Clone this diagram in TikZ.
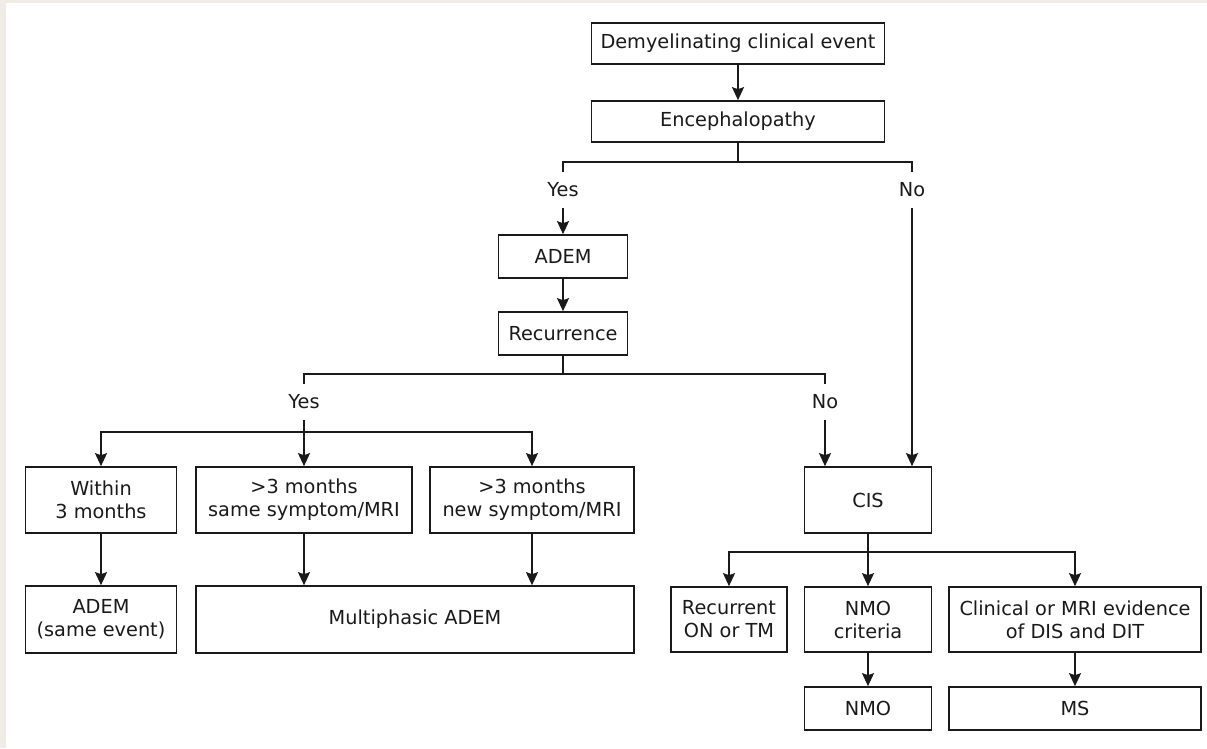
\documentclass[tikz,border=0pt]{standalone}
\usepackage{fontspec}
\setmainfont{DejaVu Sans}
\usetikzlibrary{arrows.meta}
\definecolor{bgbeige}{HTML}{F0EBE5}
\definecolor{ink}{HTML}{1A1A1A}
\begin{document}
\begin{tikzpicture}[x=1pt,y=-1pt,
  box/.style={draw=ink, line width=1.7pt, inner sep=0pt, align=center, font=\fontsize{19.3}{23}\selectfont, text=ink},
  lab/.style={inner sep=0pt, minimum height=36pt, font=\fontsize{19.3}{23}\selectfont, text=ink},
  conn/.style={draw=ink, line width=1.7pt},
  arr/.style={conn, -{Stealth[length=13pt,width=12pt,inset=2pt]}}]
\fill[bgbeige] (0,0) rectangle (1207,748);
\fill[white] (6,3) rectangle (1207,748);
\useasboundingbox (0,0) rectangle (1207,748);

\node[box, minimum width=293pt, minimum height=41pt] (dce) at (738,43.5) {Demyelinating clinical event};
\node[box, minimum width=293pt, minimum height=41pt] (enc) at (738,121.5) {Encephalopathy};
\node[lab] (yes1) at (563,190) {Yes};
\node[lab] (no1) at (912,190) {No};
\node[box, minimum width=129pt, minimum height=43pt] (adem) at (563,256.5) {ADEM};
\node[box, minimum width=129pt, minimum height=43pt] (rec) at (563,333.5) {Recurrence};
\node[lab] (yes2) at (304,402) {Yes};
\node[lab] (no2) at (825,402) {No};
\node[box, minimum width=151pt, minimum height=66pt] (within) at (101,500) {Within\\3 months};
\node[box, minimum width=216pt, minimum height=66pt] (same) at (304,500) {>3 months\\same symptom/MRI};
\node[box, minimum width=204pt, minimum height=66pt] (new) at (532,500) {>3 months\\new symptom/MRI};
\node[box, minimum width=127pt, minimum height=66pt] (cis) at (868,500) {CIS};
\node[box, minimum width=151pt, minimum height=67pt] (ademse) at (101,619.5) {ADEM\\(same event)};
\node[box, minimum width=438pt, minimum height=67pt] (multi) at (415,619.5) {Multiphasic ADEM};
\node[box, minimum width=116pt, minimum height=65pt] (recon) at (729,619.5) {Recurrent\\ON or TM};
\node[box, minimum width=127pt, minimum height=65pt] (nmoc) at (868,619.5) {NMO\\criteria};
\node[box, minimum width=252pt, minimum height=65pt] (clin) at (1075,619.5) {Clinical or MRI evidence\\of DIS and DIT};
\node[box, minimum width=127pt, minimum height=43pt] (nmo) at (868,708.5) {NMO};
\node[box, minimum width=252pt, minimum height=43pt] (ms) at (1075,708.5) {MS};

\coordinate (j1) at (738,162);
\coordinate (j2) at (563,374);
\coordinate (j3) at (304,432);
\coordinate (j4) at (868,552);

\draw[arr] (dce.south) -- (enc.north);
\draw[conn] (enc.south) -- (j1);
\draw[conn] (yes1.north) |- (j1) -| (no1.north);
\draw[arr] (yes1.south) -- (adem.north);
\draw[arr] (no1.south) -- (no1.south |- cis.north);
\draw[arr] (adem.south) -- (rec.north);
\draw[conn] (rec.south) -- (j2);
\draw[conn] (yes2.north) |- (j2) -| (no2.north);
\draw[conn] (yes2.south) -- (j3);
\draw[arr] (j3) -- (same.north);
\draw[arr] (j3) -| (within.north);
\draw[arr] (j3) -| (new.north);
\draw[arr] (no2.south) -- (no2.south |- cis.north);
\draw[arr] (within.south) -- (ademse.north);
\draw[arr] (same.south) -- (same.south |- multi.north);
\draw[arr] (new.south) -- (new.south |- multi.north);
\draw[conn] (cis.south) -- (j4);
\draw[arr] (j4) -- (nmoc.north);
\draw[arr] (j4) -| (recon.north);
\draw[arr] (j4) -| (clin.north);
\draw[arr] (nmoc.south) -- (nmo.north);
\draw[arr] (clin.south) -- (ms.north);
\end{tikzpicture}
\end{document}
